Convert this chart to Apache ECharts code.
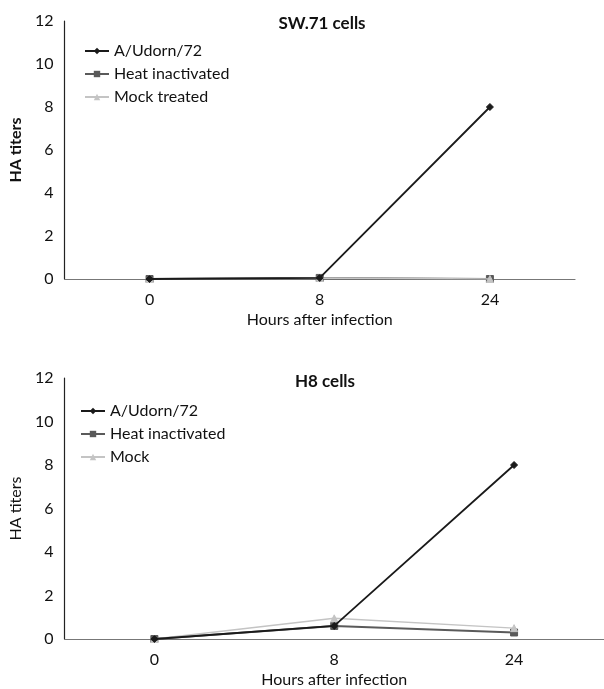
<!DOCTYPE html>
<html>
<head>
<meta charset="utf-8">
<script src="https://cdn.jsdelivr.net/npm/echarts@6/dist/echarts.min.js"></script>
<style>html,body{margin:0;padding:0;background:#fff}#c{width:604px;height:689px}</style>
</head>
<body>
<div id="c"></div>
<script>
var categories = ['0', '8', '24'];
var yTicks = [0, 2, 4, 6, 8, 10, 12];
var sw71Names = ['A/Udorn/72', 'Heat inactivated', 'Mock treated'];
var h8Names = ['A/Udorn/72 ', 'Heat inactivated ', 'Mock'];
var sw71Udorn = [0, 0.05, 8];
var sw71Heat = [0, 0.05, 0];
var sw71Mock = [0, 0.05, 0];
var h8Udorn = [0, 0.6, 8];
var h8Heat = [0, 0.6, 0.3];
var h8Mock = [0, 0.95, 0.5];

var FONT = 'Lato';
var styles = [
  {color: '#1a1a1a', symbol: 'diamond', size: 7, width: 1.8, z: 9},
  {color: '#5a5a5a', symbol: 'rect', size: 7, width: 2, z: 7},
  {color: '#c4c4c4', symbol: 'triangle', size: 7, width: 1.5, z: 8}
];
function mkSeries(name, data, idx, gi) {
  var s = styles[idx];
  return {
    name: name, type: 'line', data: data,
    xAxisIndex: gi, yAxisIndex: gi,
    symbol: s.symbol, symbolSize: s.size, showAllSymbol: true,
    lineStyle: {color: s.color, width: s.width},
    itemStyle: {color: s.color, borderColor: s.color},
    z: s.z, animation: false
  };
}
var xAx = function (gi) {
  return {
    type: 'category', gridIndex: gi, data: categories, boundaryGap: true,
    axisLine: {lineStyle: {color: '#777', width: 1.2}},
    axisTick: {show: false},
    axisLabel: {color: '#111', fontFamily: FONT, fontSize: 16, margin: 13},
    name: 'Hours after infection', nameLocation: 'middle', nameGap: 33,
    nameTextStyle: {color: '#111', fontFamily: FONT, fontSize: 16}
  };
};
var yAx = function (gi, bold) {
  return {
    type: 'value', gridIndex: gi, min: 0, max: 12, interval: 2,
    axisLine: {show: true, lineStyle: {color: '#222', width: 1.2}},
    axisTick: {show: false}, splitLine: {show: false},
    axisLabel: {color: '#111', fontFamily: FONT, fontSize: 16, margin: 11},
    name: 'HA titers', nameLocation: 'middle', nameGap: 35,
    nameTextStyle: {color: '#111', fontFamily: FONT, fontSize: 16, fontWeight: bold ? 'bold' : 'normal'}
  };
};
var legendBase = {
  orient: 'vertical', itemWidth: 24, itemHeight: 8, itemGap: 7,
  textStyle: {color: '#111', fontFamily: FONT, fontSize: 16}, padding: 0
};
var chart = echarts.init(document.getElementById('c'), null, {renderer: 'canvas'});
chart.setOption({
  animation: false,
  backgroundColor: '#fff',
  title: [
    {text: 'SW.71 cells', left: 317, top: 10, textAlign: 'center',
     textStyle: {fontFamily: FONT, fontSize: 17, fontWeight: 'bold', color: '#111'}},
    {text: 'H8 cells', left: 320, top: 368, textAlign: 'center',
     textStyle: {fontFamily: FONT, fontSize: 17, fontWeight: 'bold', color: '#111'}}
  ],
  legend: [
    Object.assign({}, legendBase, {left: 84, top: 43, data: sw71Names}),
    Object.assign({}, legendBase, {left: 80, top: 403, data: h8Names})
  ],
  grid: [
    {left: 60, right: 29, top: 21, bottom: 410},
    {left: 59, right: -8, top: 378, bottom: 43}
  ],
  xAxis: [xAx(0), xAx(1)],
  yAxis: [yAx(0, true), yAx(1, false)],
  series: [
    mkSeries(sw71Names[0], sw71Udorn, 0, 0),
    mkSeries(sw71Names[1], sw71Heat, 1, 0),
    mkSeries(sw71Names[2], sw71Mock, 2, 0),
    mkSeries(h8Names[0], h8Udorn, 0, 1),
    mkSeries(h8Names[1], h8Heat, 1, 1),
    mkSeries(h8Names[2], h8Mock, 2, 1)
  ]
});
</script>
</body>
</html>
